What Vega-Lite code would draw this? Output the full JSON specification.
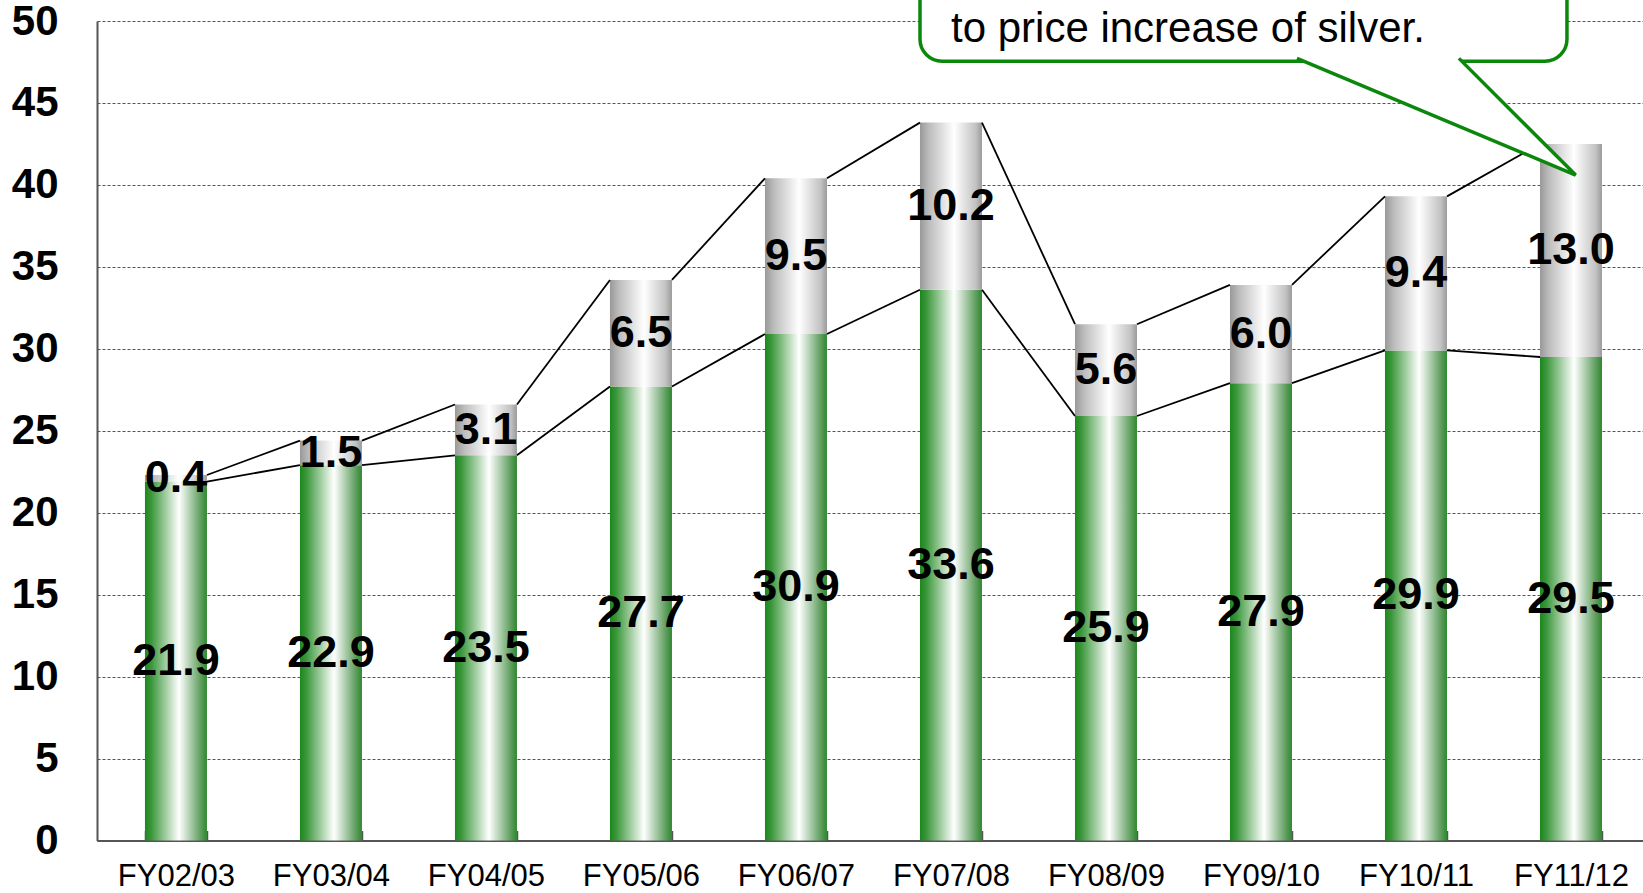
{
  "$schema": "https://vega.github.io/schema/vega-lite/v6.json",
  "width": 1546,
  "height": 819.5,
  "autosize": {"type": "none"},
  "padding": {"left": 97, "top": 21, "right": 0, "bottom": 52.5},
  "background": "white",
  "config": {
    "view": {"stroke": null},
    "font": "Liberation Sans"
  },
  "datasets": {
    "sales": [
      {"year": "FY02/03", "part": "base", "value": 21.9},
      {"year": "FY02/03", "part": "silver", "value": 0.4},
      {"year": "FY03/04", "part": "base", "value": 22.9},
      {"year": "FY03/04", "part": "silver", "value": 1.5},
      {"year": "FY04/05", "part": "base", "value": 23.5},
      {"year": "FY04/05", "part": "silver", "value": 3.1},
      {"year": "FY05/06", "part": "base", "value": 27.7},
      {"year": "FY05/06", "part": "silver", "value": 6.5},
      {"year": "FY06/07", "part": "base", "value": 30.9},
      {"year": "FY06/07", "part": "silver", "value": 9.5},
      {"year": "FY07/08", "part": "base", "value": 33.6},
      {"year": "FY07/08", "part": "silver", "value": 10.2},
      {"year": "FY08/09", "part": "base", "value": 25.9},
      {"year": "FY08/09", "part": "silver", "value": 5.6},
      {"year": "FY09/10", "part": "base", "value": 27.9},
      {"year": "FY09/10", "part": "silver", "value": 6.0},
      {"year": "FY10/11", "part": "base", "value": 29.9},
      {"year": "FY10/11", "part": "silver", "value": 9.4},
      {"year": "FY11/12", "part": "base", "value": 29.5},
      {"year": "FY11/12", "part": "silver", "value": 13.0}
    ],
    "callout_box": [
      {"x": 4.80, "x2": 8.974, "y": 47.55, "y2": 57}
    ],
    "callout_tail": [
      {"order": 1, "x": 7.232, "y": 47.72},
      {"order": 2, "x": 9.03, "y": 40.6},
      {"order": 3, "x": 8.277, "y": 47.72}
    ],
    "callout_text": [
      {"x": 5.0, "y": 48.71, "label": "to price increase of silver."}
    ]
  },
  "layer": [
    {
      "data": {"name": "sales"},
      "transform": [
        {"stack": "value", "groupby": ["year"], "sort": [{"field": "part", "order": "ascending"}], "as": ["y0", "y1"]},
        {
          "window": [
            {"op": "lead", "field": "year", "as": "nextYear"},
            {"op": "lead", "field": "y1", "as": "nextY1"}
          ],
          "groupby": ["part"],
          "sort": [{"field": "year", "order": "ascending"}]
        }
      ],
      "layer": [
        {
          "transform": [{"filter": "datum.part === 'base'"}],
          "mark": {
            "type": "bar",
            "fill": {
              "gradient": "linear", "x1": 0, "y1": 0, "x2": 1, "y2": 0,
              "stops": [
                {"offset": 0, "color": "#1c881c"},
                {"offset": 0.1, "color": "#3a963a"},
                {"offset": 0.55, "color": "#ffffff"},
                {"offset": 0.9, "color": "#5f9e5f"},
                {"offset": 1, "color": "#2e882e"}
              ]
            }
          },
          "encoding": {
            "x": {
              "field": "year", "type": "nominal", "sort": null,
              "scale": {"paddingInner": 0.6, "paddingOuter": 0.287, "align": 0.539},
              "axis": {
                "title": null,
                "labelAngle": 0,
                "labelFont": "Liberation Sans",
                "labelFontSize": 31,
                "labelColor": "#000000",
                "labelPadding": 31,
                "tickBand": "extent",
                "tickSize": -10,
                "tickColor": "#555555",
                "tickWidth": 1.5,
                "domainColor": "#555555",
                "domainWidth": 2,
                "grid": false
              }
            },
            "y": {
              "field": "y1", "type": "quantitative",
              "scale": {"domain": [0, 50], "nice": false},
              "axis": {
                "title": null,
                "values": [0, 5, 10, 15, 20, 25, 30, 35, 40, 45, 50],
                "labelFont": "Liberation Sans",
                "labelFontSize": 42,
                "labelFontWeight": "bold",
                "labelColor": "#000000",
                "labelPadding": 39,
                "ticks": false,
                "tickSize": 0,
                "domainColor": "#555555",
                "domainWidth": 2,
                "grid": true,
                "gridColor": "#555555",
                "gridDash": [3, 2],
                "gridWidth": 1
              }
            },
            "y2": {"field": "y0"}
          }
        },
        {
          "transform": [{"filter": "datum.part === 'silver'"}],
          "mark": {
            "type": "bar",
            "fill": {
              "gradient": "linear", "x1": 0, "y1": 0, "x2": 1, "y2": 0,
              "stops": [
                {"offset": 0, "color": "#999999"},
                {"offset": 0.15, "color": "#bdbdbd"},
                {"offset": 0.55, "color": "#ffffff"},
                {"offset": 0.9, "color": "#c2c2c2"},
                {"offset": 1, "color": "#9a9a9a"}
              ]
            }
          },
          "encoding": {
            "x": {"field": "year", "type": "nominal", "sort": null},
            "y": {"field": "y1", "type": "quantitative"},
            "y2": {"field": "y0"}
          }
        },
        {
          "transform": [{"filter": "isValid(datum.nextYear)"}],
          "mark": {"type": "rule", "color": "#000000", "strokeWidth": 1.8, "xOffset": 31, "x2Offset": -31},
          "encoding": {
            "x": {"field": "year", "type": "nominal", "sort": null},
            "x2": {"field": "nextYear"},
            "y": {"field": "y1", "type": "quantitative"},
            "y2": {"field": "nextY1"}
          }
        },
        {
          "transform": [
            {"fold": ["y0", "y1"], "as": ["edge", "pos"]},
            {
              "aggregate": [
                {"op": "mean", "field": "pos", "as": "mid"},
                {"op": "max", "field": "value", "as": "value"}
              ],
              "groupby": ["year", "part"]
            }
          ],
          "mark": {"type": "text", "font": "Liberation Sans", "fontSize": 45, "fontWeight": "bold", "color": "#000000", "baseline": "middle", "align": "center"},
          "encoding": {
            "x": {"field": "year", "type": "nominal", "sort": null},
            "y": {"field": "mid", "type": "quantitative"},
            "text": {"field": "value", "type": "quantitative", "format": ".1f"}
          }
        }
      ]
    },
    {
      "layer": [
        {
          "data": {"name": "callout_box"},
          "mark": {"type": "rect", "fill": "#ffffff", "stroke": "#0b870b", "strokeWidth": 3.5, "cornerRadius": 22},
          "encoding": {
            "x": {"field": "x", "type": "quantitative", "scale": {"domain": [-0.5097, 9.4645], "nice": false, "zero": false}, "axis": null},
            "x2": {"field": "x2"},
            "y": {"field": "y", "type": "quantitative", "scale": {"domain": [0, 50], "nice": false}, "axis": null},
            "y2": {"field": "y2"}
          }
        },
        {
          "data": {"name": "callout_tail"},
          "mark": {"type": "line", "fill": "#ffffff", "stroke": "#0b870b", "strokeWidth": 3.5, "strokeJoin": "miter"},
          "encoding": {
            "x": {"field": "x", "type": "quantitative"},
            "y": {"field": "y", "type": "quantitative"},
            "order": {"field": "order", "type": "quantitative"}
          }
        },
        {
          "data": {"name": "callout_text"},
          "mark": {"type": "text", "font": "Liberation Sans", "fontSize": 42, "color": "#000000", "align": "left", "baseline": "alphabetic"},
          "encoding": {
            "x": {"field": "x", "type": "quantitative"},
            "y": {"field": "y", "type": "quantitative"},
            "text": {"field": "label"}
          }
        }
      ]
    }
  ],
  "resolve": {"scale": {"x": "independent", "y": "independent"}}
}
